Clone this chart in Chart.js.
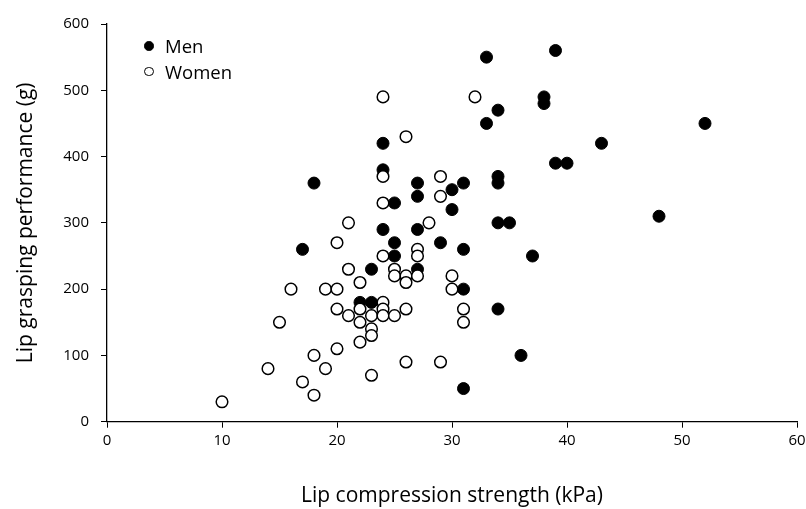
<!DOCTYPE html>
<html>
<head>
<meta charset="utf-8">
<script src="https://cdn.jsdelivr.net/npm/chart.js@4.4.1/dist/chart.umd.min.js"></script>
<style>
  html, body { margin: 0; padding: 0; background: #fff; }
  #wrap { position: relative; width: 806px; height: 509px; }
  #legend { position: absolute; left: 142px; top: 33px; font-family: "Open Sans", sans-serif; font-size: 18.5px; color: #000; }
  .item { position: relative; height: 25.7px; line-height: 25px; padding-left: 23px; }
  .dot { position: absolute; left: 2px; top: 8px; width: 9.5px; height: 9.5px; border-radius: 50%; box-sizing: border-box; border: 1.3px solid #000; }
</style>
</head>
<body>
<div id="wrap">
  <canvas id="c" width="806" height="509"></canvas>
  <div id="legend">
    <div class="item"><span class="dot" style="background:#000"></span>Men</div>
    <div class="item"><span class="dot" style="background:#fff"></span>Women</div>
  </div>
</div>
<script>
// Lip compression strength (kPa) and lip grasping performance (g)
const menX = [18, 17, 22, 23, 23, 24, 24, 24, 25, 25, 25, 27, 27, 27, 27, 29, 30, 30, 31, 31, 31, 31, 33, 33, 34, 34, 34, 34, 35, 34, 36, 37, 38, 38, 39, 39, 40, 43, 48, 52];
const menY = [360, 260, 180, 180, 230, 420, 380, 290, 330, 270, 250, 360, 340, 290, 230, 270, 350, 320, 360, 260, 200, 50, 550, 450, 470, 370, 360, 300, 300, 170, 100, 250, 490, 480, 560, 390, 390, 420, 310, 450];
const womenX = [10, 14, 15, 16, 17, 18, 18, 19, 19, 20, 20, 20, 20, 21, 21, 21, 22, 22, 22, 22, 23, 23, 23, 23, 24, 24, 24, 24, 24, 24, 24, 25, 25, 25, 26, 26, 26, 26, 26, 27, 27, 27, 28, 29, 29, 29, 30, 30, 31, 31, 32];
const womenY = [30, 80, 150, 200, 60, 40, 100, 80, 200, 200, 270, 170, 110, 300, 230, 160, 210, 170, 150, 120, 160, 140, 130, 70, 490, 370, 330, 250, 180, 170, 160, 230, 220, 160, 430, 220, 210, 170, 90, 260, 250, 220, 300, 370, 340, 90, 220, 200, 170, 150, 490];
const xTicks = [0, 10, 20, 30, 40, 50, 60];
const yTicks = [0, 100, 200, 300, 400, 500, 600];
const seriesNames = ['Men', 'Women'];
const xTitle = 'Lip compression strength (kPa)';
const yTitle = 'Lip grasping performance (g)';

const toPts = (xs, ys) => xs.map((x, i) => ({ x: x, y: ys[i] }));
const FONT = '"Open Sans", sans-serif';

new Chart(document.getElementById('c'), {
  type: 'scatter',
  data: {
    datasets: [
      { label: seriesNames[1], data: toPts(womenX, womenY), pointRadius: 5.8, pointHoverRadius: 5.8,
        backgroundColor: '#fff', borderColor: '#000', pointBorderWidth: 1.5 },
      { label: seriesNames[0], data: toPts(menX, menY), pointRadius: 6, pointHoverRadius: 6,
        backgroundColor: '#000', borderColor: '#000', pointBorderWidth: 1 }
    ]
  },
  options: {
    responsive: false,
    animation: false,
    events: [],
    layout: { padding: { left: 0, right: 0, top: 24, bottom: 0 } },
    plugins: { legend: { display: false }, tooltip: { enabled: false } },
    scales: {
      x: {
        type: 'linear', min: 0, max: 60,
        afterBuildTicks: s => { s.ticks = xTicks.map(v => ({ value: v })); },
        afterFit: s => { s.height = 87.3; s.paddingRight = 9; s.paddingLeft = 0; },
        grid: { display: true, drawOnChartArea: false, drawTicks: true, tickLength: 6, color: '#000', lineWidth: 1 },
        border: { display: true, color: '#000', width: 1.3 },
        ticks: { color: '#000', font: { family: FONT, size: 15 }, padding: 4, maxRotation: 0 },
        title: { display: true, text: xTitle, color: '#000', font: { family: FONT, size: 21 }, padding: { top: 20, bottom: 0 } }
      },
      y: {
        type: 'linear', min: 0, max: 600,
        afterBuildTicks: s => { s.ticks = yTicks.map(v => ({ value: v })); },
        afterFit: s => { s.width = 107; },
        grid: { display: true, drawOnChartArea: false, drawTicks: true, tickLength: 6, color: '#000', lineWidth: 1 },
        border: { display: true, color: '#000', width: 1.3 },
        ticks: { color: '#000', font: { family: FONT, size: 15 }, padding: 12 },
        title: { display: true, text: yTitle, color: '#000', font: { family: FONT, size: 21 }, padding: { top: 13, bottom: 0 } }
      }
    }
  }
});
</script>
</body>
</html>
